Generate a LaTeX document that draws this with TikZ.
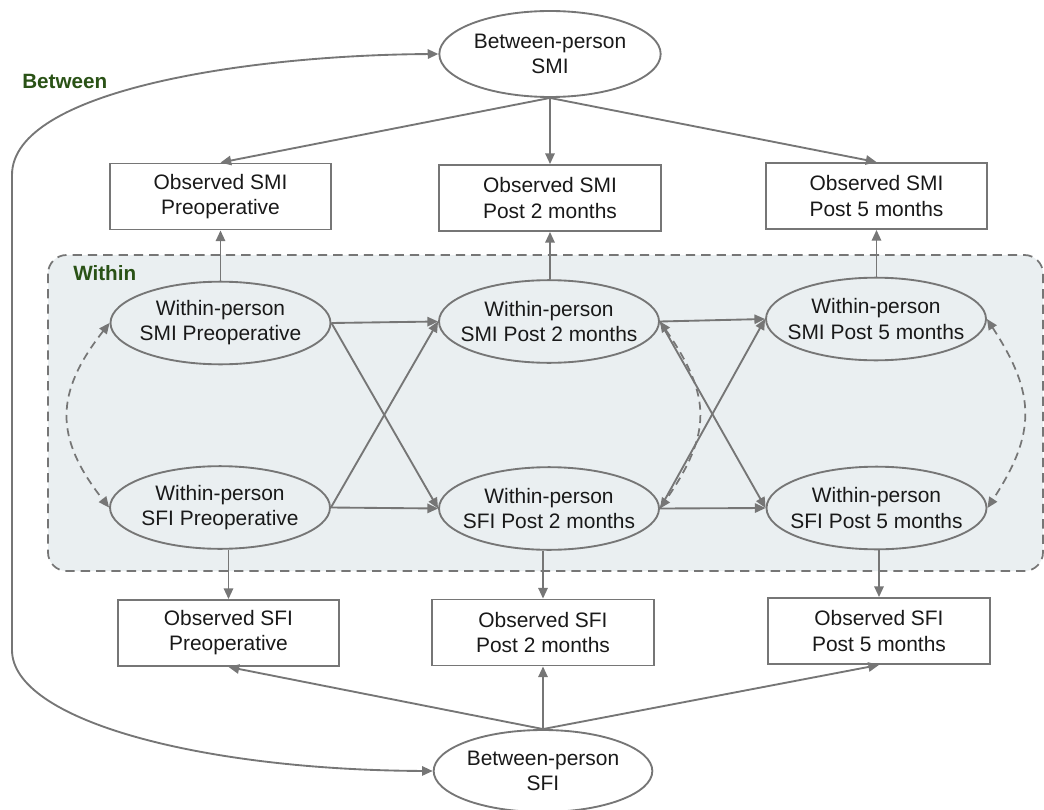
\documentclass[tikz,border=0pt]{standalone}
\usepackage{fontspec}
\setmainfont{Liberation Sans}
\usetikzlibrary{shapes.geometric,arrows.meta}
\definecolor{lc}{RGB}{118,118,118}
\definecolor{regionfill}{RGB}{234,239,241}
\definecolor{tc}{RGB}{25,25,25}
\definecolor{grn}{RGB}{42,82,22}
\tikzset{
  tipA/.tip={Triangle[length=8pt,width=7pt]},
  ell/.style={ellipse, draw=lc, line width=1.4pt, fill=#1, text=tc,
    minimum width=165pt, minimum height=62pt, inner xsep=-12pt, inner ysep=0pt, align=center},
  ell/.default=white,
  obs/.style={rectangle, draw=lc, line width=1.4pt, fill=white, text=tc,
    minimum width=166pt, minimum height=49.5pt, align=center},
  arr/.style={draw=lc, line width=1.4pt, -tipA},
  twoway/.style={draw=lc, line width=1.4pt, tipA-tipA},
  cov/.style={draw=lc, line width=1.3pt, dash pattern=on 6pt off 4pt, tipA-tipA},
  grp/.style={text=grn, font=\fontsize{15.5}{18.6}\selectfont\bfseries, inner sep=0pt},
  region/.style={draw=lc, line width=1.3pt, dash pattern=on 7pt off 4.5pt, fill=regionfill, rounded corners=14pt}
}
\begin{document}
\begin{tikzpicture}[x=0.75pt,y=-0.75pt,font=\fontsize{15.7}{18.8}\selectfont]
\useasboundingbox (0,0) rectangle (1044,809);

% within region
\path[region] (48,255) rectangle (1043,571);

% labels
\node[grp, anchor=base west] (lblbetween) at (22,89) {Between};
\node[grp, anchor=base west] (lblwithin) at (73,280) {Within};

% between-person latent variables
\node[ell, minimum width=166pt, minimum height=64.5pt] (bsmi) at (550,54) {Between-person\\SMI};
\node[ell, minimum width=164pt, minimum height=61.5pt] (bsfi) at (543,771) {Between-person\\SFI};

% observed SMI
\node[obs] (osmi1) at (220.5,196.5) {Observed SMI\\Preoperative};
\node[obs] (osmi2) at (550,198) {Observed SMI\\Post 2 months};
\node[obs] (osmi3) at (876.5,196) {Observed SMI\\Post 5 months};

% within-person SMI
\node[ell=regionfill] (wsmi1) at (220.5,323) {Within-person\\SMI Preoperative};
\node[ell=regionfill] (wsmi2) at (549,321.5) {Within-person\\SMI Post 2 months};
\node[ell=regionfill] (wsmi3) at (876,319) {Within-person\\SMI Post 5 months};

% within-person SFI
\node[ell=regionfill] (wsfi1) at (220,507.5) {Within-person\\SFI Preoperative};
\node[ell=regionfill] (wsfi2) at (549,508.5) {Within-person\\SFI Post 2 months};
\node[ell=regionfill] (wsfi3) at (876.5,508) {Within-person\\SFI Post 5 months};

% observed SFI
\node[obs] (osfi1) at (228.5,633) {Observed SFI\\Preoperative};
\node[obs] (osfi2) at (543,632.5) {Observed SFI\\Post 2 months};
\node[obs] (osfi3) at (879,631) {Observed SFI\\Post 5 months};

% between -> observed SMI
\draw[arr] (bsmi.south) -- (osmi1.north);
\draw[arr] (bsmi.south) -- (osmi2.north);
\draw[arr] (bsmi.south) -- (osmi3.north);

% between -> observed SFI
\draw[arr] (bsfi.north) -- (osfi1.south);
\draw[arr] (bsfi.north) -- (osfi2.south);
\draw[arr] (bsfi.north) -- (osfi3.south);

% within SMI -> observed SMI
\draw[arr] (osmi1.south |- wsmi1.north) -- (osmi1.south);
\draw[arr] (osmi2.south |- wsmi2.north) -- (osmi2.south);
\draw[arr] (osmi3.south |- wsmi3.north) -- (osmi3.south);

% within SFI -> observed SFI
\draw[arr] (wsfi1.south -| osfi1.north) -- (osfi1.north);
\draw[arr] (wsfi2.south -| osfi2.north) -- (osfi2.north);
\draw[arr] (wsfi3.south -| osfi3.north) -- (osfi3.north);

% autoregressive and cross-lagged paths
\draw[arr] (wsmi1.east) -- (wsmi2.west);
\draw[arr] (wsfi1.east) -- (wsfi2.west);
\draw[arr] (wsmi1.east) -- (wsfi2.west);
\draw[arr] (wsfi1.east) -- (wsmi2.west);
\draw[arr] (wsmi2.east) -- (wsmi3.west);
\draw[arr] (wsfi2.east) -- (wsfi3.west);
\draw[arr] (wsmi2.east) -- (wsfi3.west);
\draw[arr] (wsfi2.east) -- (wsmi3.west);

% within-time covariances
\draw[cov] (wsmi1.west) .. controls +(-55,70) and +(-55,-70) .. (wsfi1.west);
\draw[cov] (wsmi2.east) .. controls +(52,75) and +(52,-75) .. (wsfi2.east);
\draw[cov] (wsmi3.east) .. controls +(49,75) and +(49,-75) .. (wsfi3.east);

% between-person covariance
\draw[twoway] (bsmi.west) .. controls (250,55) and (12,90) .. (12,175) -- (12,650) .. controls (12,720) and (200,770) .. (bsfi.west);
\end{tikzpicture}
\end{document}
